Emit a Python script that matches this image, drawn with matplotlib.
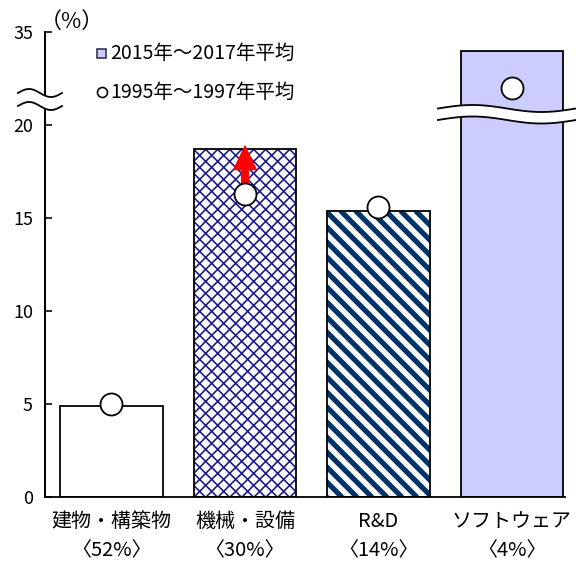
import numpy as np
import matplotlib
matplotlib.use("Agg")
import matplotlib.pyplot as plt
from matplotlib.lines import Line2D
from matplotlib.patches import Polygon
from matplotlib.collections import LineCollection
from matplotlib.transforms import IdentityTransform

plt.rcParams['font.family'] = ['Noto Sans CJK JP', 'DejaVu Sans']

# ---- data ----
categories = ['建物・構築物', '機械・設備', 'R&D', 'ソフトウェア']
shares = ['〈52%〉', '〈30%〉', '〈14%〉', '〈4%〉']
avg_2015_2017 = [4.9, 18.7, 15.4, 32.0]
avg_1995_1997 = [5.0, 16.3, 15.6, 26.0]
yticks = [0, 5, 10, 15, 20, 35]
legend_labels = ['2015年～2017年平均', '1995年～1997年平均']

LAVENDER = '#CCCCFF'
NAVY = '#14148C'
STRIPE = '#003468'

W, H = 576, 562
DPI = 72
fig = plt.figure(figsize=(W / DPI, H / DPI), dpi=DPI)
ax = fig.add_axes([45 / W, 1 - 497.3 / H, 520 / W, 465 / H])

# broken axis: values above 20 are compressed to one third
BREAK = 20.0
def fwd(y):
    y = np.asarray(y, dtype=float)
    return np.where(y <= BREAK, y, BREAK + (y - BREAK) / 3.0)

def inv(u):
    u = np.asarray(u, dtype=float)
    return np.where(u <= BREAK, u, BREAK + (u - BREAK) * 3.0)

ax.set_yscale('function', functions=(fwd, inv))
ax.set_ylim(0, 35)
ax.set_xlim(-0.498, 3.397)

x = np.arange(len(categories))
bw = 0.77


def diagonal_fill(patch, period, lw, color, directions, z):
    """Fill a bar with 45-degree lines (screen space), clipped to the bar."""
    bb = patch.get_window_extent()
    x0, y0, x1, y1 = bb.x0, bb.y0, bb.x1, bb.y1
    h = y1 - y0
    segs = []
    for d in directions:
        for c in np.arange(-h - period, (x1 - x0) + h + period, period):
            xa = x0 + c
            if d < 0:   # descending to the right
                segs.append([(xa, y1), (xa + h, y0)])
            else:       # ascending to the right
                segs.append([(xa, y0), (xa + h, y1)])
    lc = LineCollection(segs, colors=color, linewidths=lw, transform=IdentityTransform(), zorder=z)
    ax.add_collection(lc, autolim=False)
    lc.set_clip_path(patch)


# building: plain white
ax.bar(x[0], avg_2015_2017[0], bw, color='white', edgecolor='black', linewidth=1.8, zorder=2)
# machinery: navy lattice
mach = ax.bar(x[1], avg_2015_2017[1], bw, color='white', linewidth=0, zorder=2)[0]
ax.bar(x[1], avg_2015_2017[1], bw, fill=False, edgecolor='black', linewidth=1.8, zorder=2.2)
# R&D: diagonal stripes
rd = ax.bar(x[2], avg_2015_2017[2], bw, color='white', linewidth=0, zorder=2)[0]
ax.bar(x[2], avg_2015_2017[2], bw, fill=False, edgecolor='black', linewidth=1.8, zorder=2.2)
# software: lavender
ax.bar(x[3], avg_2015_2017[3], bw, color=LAVENDER, edgecolor='black', linewidth=1.8, zorder=2)

fig.canvas.draw()
diagonal_fill(mach, 12.0, 1.6, NAVY, [1, -1], 2.1)
diagonal_fill(rd, 15.0, 5.2, STRIPE, [-1], 2.1)

# red arrow marking the rise for machinery
ax.annotate('', xy=(x[1], avg_2015_2017[1] + 0.2), xytext=(x[1], avg_1995_1997[1]),
            arrowprops=dict(arrowstyle='simple,head_length=1.2,head_width=1.15,tail_width=0.36',
                            color='red', mutation_scale=20, shrinkA=0, shrinkB=0),
            zorder=3)

# earlier-period averages
ax.plot(x, avg_1995_1997, 'o', ms=22, mfc='white', mec='black', mew=1.8, ls='none', zorder=4)

# axes styling
for s in ['top', 'right']:
    ax.spines[s].set_visible(False)
ax.spines['left'].set_linewidth(2)
ax.spines['bottom'].set_linewidth(1.8)
ax.set_yticks(yticks)
ax.set_yticklabels([str(t) for t in yticks], fontsize=18)
ax.tick_params(axis='y', direction='in', length=7, width=1.6, pad=12)
ax.yaxis.set_minor_locator(matplotlib.ticker.NullLocator())
ax.set_xticks(x)
ax.set_xticklabels([f'{c}\n{s}' for c, s in zip(categories, shares)], fontsize=20, linespacing=1.5)
ax.tick_params(axis='x', length=0, pad=14)

# unit label
fig.text(40 / W, 1 - 22 / H, '（%）', fontsize=22, ha='left', va='center')

# legend entries
fig.add_artist(Line2D([101 / W], [1 - 53 / H], marker='s', ms=9, mfc=LAVENDER, mec='#222244',
                      mew=1.5, ls='none', transform=fig.transFigure))
fig.text(110 / W, 1 - 53 / H, legend_labels[0], fontsize=19.5, ha='left', va='center')
fig.add_artist(Line2D([102 / W], [1 - 92 / H], marker='o', ms=10, mfc='white', mec='black',
                      mew=1.6, ls='none', transform=fig.transFigure))
fig.text(110 / W, 1 - 92 / H, legend_labels[1], fontsize=19.5, ha='left', va='center')

# wavy break marks
def wave(xs, xe, yc_top, yc_bot, amp):
    t = np.linspace(0, 1, 120)
    px = xs + (xe - xs) * t
    off = -amp * np.sin(2 * np.pi * t)   # screen offset (down positive)
    top = yc_top + off
    bot = yc_bot + off
    fx = px / W
    ft = 1 - top / H
    fb = 1 - bot / H
    poly = np.column_stack([np.concatenate([fx, fx[::-1]]), np.concatenate([ft, fb[::-1]])])
    fig.add_artist(Polygon(poly, closed=True, facecolor='white', edgecolor='none',
                           transform=fig.transFigure, zorder=5))
    fig.add_artist(Line2D(fx, ft, color='black', lw=1.8, transform=fig.transFigure, zorder=6))
    fig.add_artist(Line2D(fx, fb, color='black', lw=1.8, transform=fig.transFigure, zorder=6))

wave(18, 62, 93, 106, 4)
wave(438, 576, 108.5, 120, 3.5)

fig.savefig('out.png', dpi=DPI)
